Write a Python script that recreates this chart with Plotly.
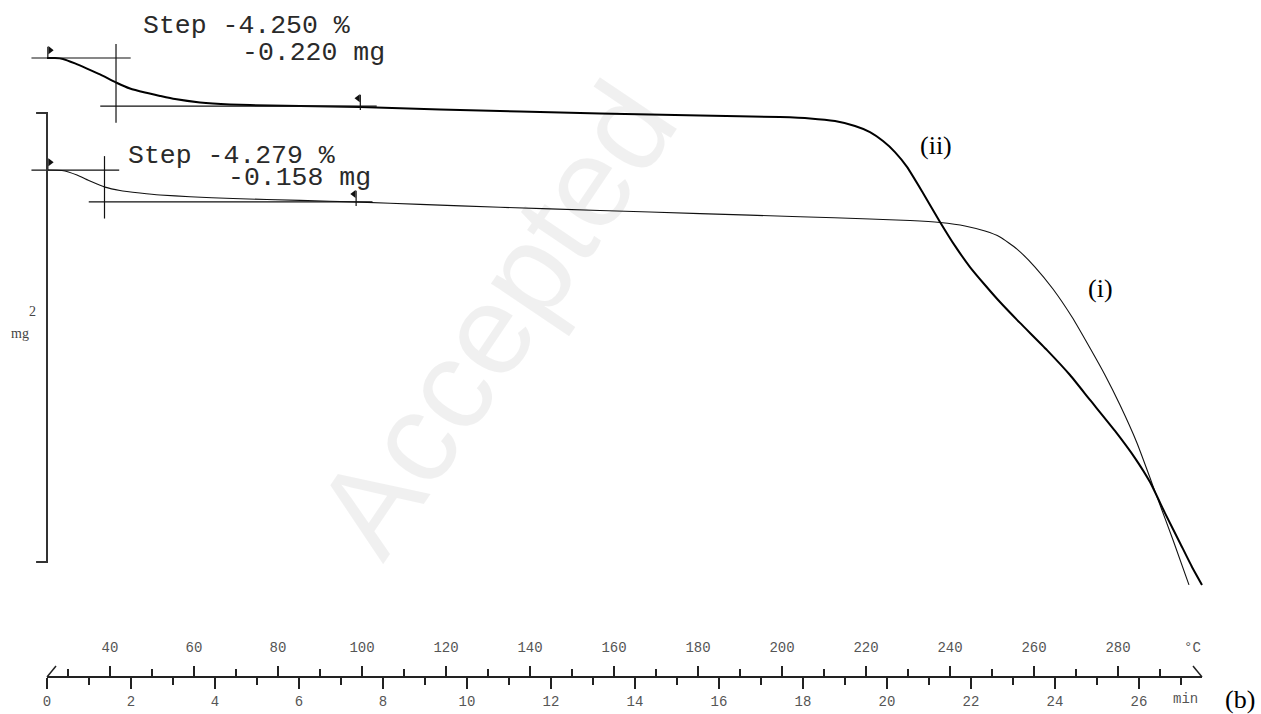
import plotly.graph_objects as go

# ---------------- data (time in min, mass in mg on the plotted scale) ----------------
T_II = [0.000, 0.190, 0.381, 0.667, 0.952, 1.262, 1.643, 1.976, 2.333, 2.690, 3.048, 3.643,
        4.357, 5.310, 6.024, 7.452, 9.357, 11.262, 13.167, 15.548, 17.452, 18.167, 18.762,
        19.238, 19.595, 19.905, 20.190, 20.476, 20.857, 21.262, 21.619, 21.976, 22.333,
        22.690, 23.167, 23.810, 24.357, 24.833, 25.429, 25.905, 26.262, 26.619, 26.976,
        27.262, 27.500]
M_II = [2.922, 2.922, 2.918, 2.898, 2.875, 2.849, 2.813, 2.786, 2.768, 2.753, 2.739, 2.724,
        2.715, 2.710, 2.708, 2.704, 2.693, 2.684, 2.675, 2.666, 2.659, 2.653, 2.641,
        2.619, 2.592, 2.552, 2.503, 2.437, 2.321, 2.192, 2.085, 1.991, 1.911,
        1.835, 1.742, 1.621, 1.510, 1.399, 1.261, 1.140, 1.033, 0.895, 0.762,
        0.655, 0.575]

T_I = [0.000, 0.357, 0.714, 1.024, 1.381, 1.738, 2.214, 2.690, 3.405, 4.429, 6.024, 7.452,
       8.881, 10.786, 13.167, 15.548, 17.929, 19.595, 20.548, 21.262, 21.857, 22.333,
       22.690, 23.095, 23.524, 23.952, 24.405, 24.833, 25.190, 25.548, 25.952, 26.429,
       26.810, 27.190]
M_I = [2.423, 2.421, 2.401, 2.374, 2.347, 2.332, 2.321, 2.312, 2.304, 2.296, 2.288, 2.280,
       2.270, 2.257, 2.243, 2.229, 2.215, 2.205, 2.198, 2.189, 2.174, 2.151,
       2.125, 2.071, 1.991, 1.893, 1.768, 1.630, 1.510, 1.376, 1.207, 0.967,
       0.775, 0.575]

# step evaluation results, curve (ii) first then (i)
STEP_PCT = ["-4.250", "-4.279"]
STEP_MG = ["-0.220", "-0.158"]
STEP_T_LEFT = [0.0, 0.0]
STEP_T_RIGHT = [7.46, 7.36]
STEP_T_INFLECT = [1.643, 1.369]
STEP_LEVEL_BEFORE = [2.922, 2.423]
STEP_LEVEL_AFTER = [2.708, 2.281]

# scale bar (mg)
SCALE_TOP = 2.677
SCALE_LEN = 2.0

TIME_TICKS = list(range(0, 27, 2))
TIME_MINOR = list(range(1, 28, 2))
TEMP_TICKS = list(range(40, 281, 20))
TEMP_MINOR = list(range(30, 291, 20))
T_START = 25.0     # deg C at t = 0
RATE = 10.0        # K/min

# ---------------- geometry ----------------
W, H = 1261, 714
PX_PER_MIN = 42.0
PX_PER_MG = 224.5
X0_PX = 47
AXIS_Y_PX = 677
p = (H - AXIS_Y_PX) / H
xr = [-X0_PX / PX_PER_MIN, (W - X0_PX) / PX_PER_MIN]
yr = [(H - AXIS_Y_PX) / PX_PER_MG, H / PX_PER_MG]
T_END = 27.5

fig = go.Figure()
BLACK = "#111111"

# curves
fig.add_trace(go.Scatter(x=T_I, y=M_I, mode="lines", line=dict(color=BLACK, width=1.1, shape="spline", smoothing=0.5),
                         hoverinfo="skip", showlegend=False))
fig.add_trace(go.Scatter(x=T_II, y=M_II, mode="lines", line=dict(color="#000000", width=2.0, shape="spline", smoothing=0.5),
                         hoverinfo="skip", showlegend=False))

# step construction lines and flags
for k in range(2):
    ti, lb, la, tr, tl = STEP_T_INFLECT[k], STEP_LEVEL_BEFORE[k], STEP_LEVEL_AFTER[k], STEP_T_RIGHT[k], STEP_T_LEFT[k]
    segs = [
        ([-0.37, ti + 0.35], [lb, lb]),
        ([ti, ti], [lb + 0.062, la - 0.074]),
        ([ti - 0.375, tr + 0.39], [la, la]),
        ([tl + 0.02, tl + 0.02], [lb, lb + 0.05]),
        ([tr, tr], [la - 0.018, la + 0.05]),
    ]
    for xs, ys in segs:
        fig.add_trace(go.Scatter(x=xs, y=ys, mode="lines", line=dict(color=BLACK, width=1.2),
                                 hoverinfo="skip", showlegend=False))
    fig.add_trace(go.Scatter(x=[tl + 0.075], y=[lb + 0.035], mode="markers",
                             marker=dict(symbol="triangle-right", size=7, color=BLACK),
                             hoverinfo="skip", showlegend=False, cliponaxis=False))
    fig.add_trace(go.Scatter(x=[tr - 0.055], y=[la + 0.035], mode="markers",
                             marker=dict(symbol="triangle-left", size=7, color=BLACK),
                             hoverinfo="skip", showlegend=False, cliponaxis=False))

# scale bar
sb_bot = SCALE_TOP - SCALE_LEN
fig.add_trace(go.Scatter(x=[-0.26, 0, 0, -0.26], y=[SCALE_TOP, SCALE_TOP, sb_bot, sb_bot], mode="lines",
                         line=dict(color="#333333", width=2), hoverinfo="skip", showlegend=False))

# dummy trace for temperature axis
fig.add_trace(go.Scatter(x=[None], y=[None], xaxis="x2", yaxis="y", showlegend=False, hoverinfo="skip"))

TICKFONT = dict(family="Liberation Mono", size=14, color="#555555")
AX = "#222222"

fig.update_layout(
    width=W, height=H, margin=dict(l=0, r=0, t=0, b=0),
    paper_bgcolor="white", plot_bgcolor="white",
    xaxis=dict(domain=[0, 1], range=xr, showgrid=False, zeroline=False, showline=False,
               tickmode="array", tickvals=TIME_TICKS, ticktext=[str(v) for v in TIME_TICKS],
               ticks="outside", ticklen=11, tickwidth=1.5, tickcolor=AX, tickfont=TICKFONT,
               ticklabelstandoff=0,
               minor=dict(tickmode="array", tickvals=TIME_MINOR, ticks="outside", ticklen=7,
                          tickwidth=1.5, tickcolor=AX, showgrid=False)),
    xaxis2=dict(overlaying="x", anchor="free", position=p, side="top",
                range=[T_START + RATE * xr[0], T_START + RATE * xr[1]],
                showgrid=False, zeroline=False, showline=False,
                tickmode="array", tickvals=TEMP_TICKS, ticktext=[str(v) for v in TEMP_TICKS],
                ticks="outside", ticklen=11, tickwidth=1.5, tickcolor=AX, tickfont=TICKFONT,
                ticklabelstandoff=8,
                minor=dict(tickmode="array", tickvals=TEMP_MINOR, ticks="outside", ticklen=8,
                           tickwidth=1.5, tickcolor=AX, showgrid=False)),
    yaxis=dict(domain=[p, 1], range=yr, visible=False),
)

# axis line with break marks
fig.add_shape(type="line", xref="x", yref="paper", x0=0, x1=T_END, y0=p, y1=p,
              line=dict(color=AX, width=2))
fig.add_shape(type="line", xref="x", yref="paper", x0=0, x1=9 / PX_PER_MIN, y0=p, y1=p + 11 / H,
              line=dict(color=AX, width=1.5))
fig.add_shape(type="line", xref="x", yref="paper", x0=T_END - 9 / PX_PER_MIN, x1=T_END, y0=p + 11 / H, y1=p,
              line=dict(color=AX, width=1.5))


def px(xp, yp):
    return xp / W, 1 - yp / H


def ann(text, xp, yp, font, xanchor="center", angle=0):
    x, y = px(xp, yp)
    fig.add_annotation(text=text, x=x, y=y, xref="paper", yref="paper", showarrow=False,
                       xanchor=xanchor, yanchor="middle", font=font, textangle=angle)


# faint watermark (drawn first so the rest sits above it)
ann("Accepted", 495, 318, dict(family="Liberation Sans", size=128, color="rgba(0,0,0,0.06)"), angle=-56)

MONO_BIG = dict(family="Liberation Mono", size=26.5, color="#2a2a2a")
ann(f"Step {STEP_PCT[0]} %", 141, 26, MONO_BIG, "left")
ann(f"{STEP_MG[0]} mg", 240, 53, MONO_BIG, "left")
ann(f"Step {STEP_PCT[1]} %", 126, 156, MONO_BIG, "left")
ann(f"{STEP_MG[1]} mg", 226, 178, MONO_BIG, "left")

SERIF = dict(family="Liberation Serif", size=26, color="#000000")
ann("(ii)", 936, 146, SERIF)
ann("(i)", 1100, 288, SERIF)
ann("(b)", 1240, 699, dict(family="Liberation Serif", size=26, color="#000000"))

SMALL = dict(family="Liberation Serif", size=14, color="#444444")
ann("2", 32, 311, SMALL)
ann("mg", 20, 333, SMALL)

ann("°C", 1192, 648, TICKFONT)
ann("min", 1185, 699, TICKFONT)

fig.write_html("out.html")
